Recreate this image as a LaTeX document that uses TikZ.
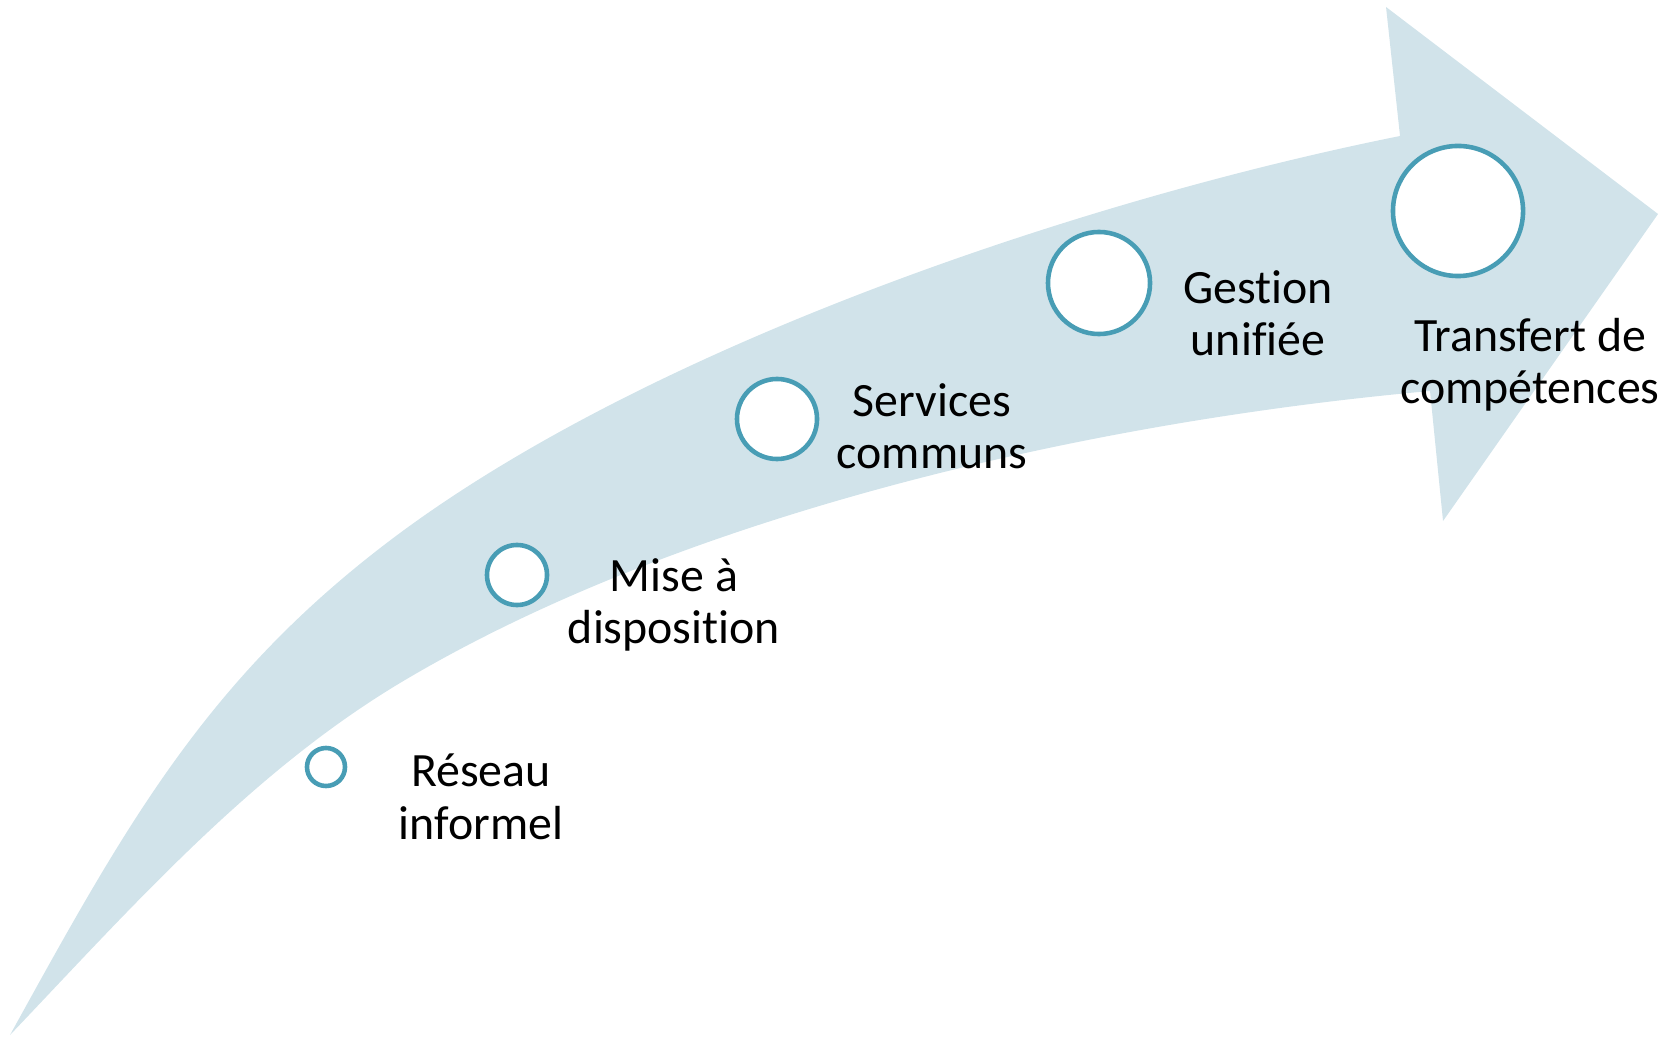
\documentclass[tikz,border=0pt]{standalone}
\usepackage{fontspec}
\setmainfont{Carlito}[Ligatures=NoCommon]
\definecolor{arrow-blue}{RGB}{209,227,234}
\definecolor{ring-teal}{RGB}{72,157,181}

\begin{document}
\begin{tikzpicture}
    [x=0.01cm, y=-0.01cm,
    ring/.style = {circle, draw=ring-teal, fill=white, line width=1.3pt, inner sep=0pt},
    stage/.style = {align=center, inner sep=0pt,
            font=\fontsize{13.6}{14.9}\selectfont},
    ]
    \useasboundingbox (0,0) rectangle (1671,1037);

    \coordinate (tail) at (10,1035);
    \coordinate (bend-up) at (400,533);
    \coordinate (bend-low) at (400,683);
    \coordinate (neck-up) at (1400,136);
    \coordinate (neck-low) at (1430,391);

    \fill[arrow-blue] (tail) .. controls (126,825) and (207,676) .. (bend-up)
        .. controls (657,343) and (1086,199) .. (neck-up)
        -- (1386,7) -- (1658,214) -- (1443,521) -- (neck-low)
        .. controls (1074,423) and (674,519) .. (bend-low)
        .. controls (250,773) and (131,908) .. (tail)
        -- cycle;

    \node[ring, minimum size=0.38cm] (dot-reseau) at (326,767) {};
    \node[ring, minimum size=0.60cm] (dot-mise) at (517,575) {};
    \node[ring, minimum size=0.80cm] (dot-services) at (777,419) {};
    \node[ring, minimum size=1.02cm] (dot-gestion) at (1099,283) {};
    \node[ring, minimum size=1.30cm] (dot-transfert) at (1458,211) {};

    \node[stage] (txt-reseau) at (481,797) {Réseau\\informel};
    \node[stage] (txt-mise) at (674,605) {Mise à\\disposition};
    \node[stage] (txt-services) at (932,426) {Services\\communs};
    \node[stage] (txt-gestion) at (1258,313) {Gestion\\unifiée};
    \node[stage] (txt-transfert) at (1530,365) {Transfert de\\compétences};
\end{tikzpicture}
\end{document}
